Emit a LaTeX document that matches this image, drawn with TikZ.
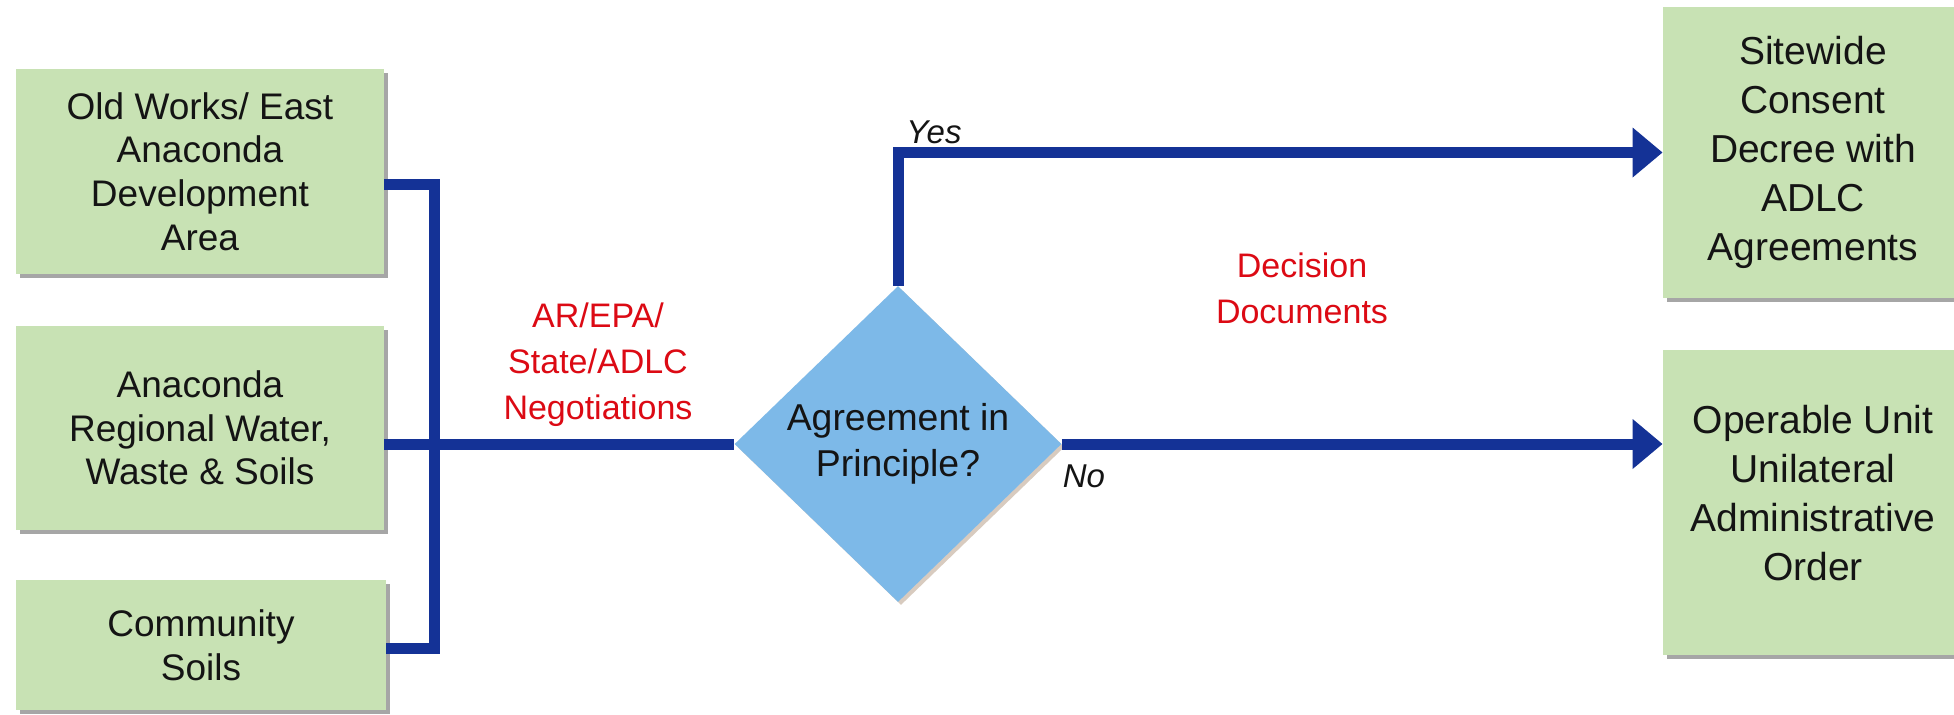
\documentclass[tikz,border=0pt]{standalone}
\usepackage{fontspec}
\setmainfont{Liberation Sans}
\usetikzlibrary{shapes.geometric,arrows.meta,shadows,calc}
\definecolor{boxgreen}{RGB}{200,226,180}
\definecolor{linkblue}{RGB}{20,50,150}
\definecolor{diablue}{RGB}{125,185,232}
\definecolor{notered}{RGB}{220,10,20}
\definecolor{txt}{RGB}{20,20,20}
\tikzset{
  greenbox/.style={rectangle, fill=boxgreen, draw=none, align=center, text=txt, inner sep=0pt,
    drop shadow={shadow xshift=2pt, shadow yshift=-2pt, fill=black, opacity=0.35}},
  leftbox/.style={greenbox, minimum width=184pt, font=\fontsize{18.5}{21.8}\selectfont},
  rightbox/.style={greenbox, minimum width=150pt, font=\fontsize{19.5}{24.5}\selectfont},
  boxtext/.style={align=center, text=txt, inner sep=0pt, font=\fontsize{19.5}{24.5}\selectfont},
  decision/.style={diamond, fill=diablue, draw=none, inner sep=0pt, align=center, text=txt,
    minimum width=163.5pt, minimum height=158pt, font=\fontsize{18.7}{23}\selectfont,
    drop shadow={shadow xshift=1.5pt, shadow yshift=-1.5pt, fill=black!60!orange, opacity=0.25}},
  conn/.style={draw=linkblue, line width=5.5pt, line join=miter},
  arrowed/.style={conn, -{Triangle[length=15pt,width=24pt]}},
  redlabel/.style={text=notered, align=center, font=\fontsize{17}{23}\selectfont},
  branchlabel/.style={text=txt, font=\fontsize{16.5}{20}\selectfont\itshape, anchor=base}
}
\begin{document}
\begin{tikzpicture}[x=0.5pt,y=-0.5pt]
\useasboundingbox[fill=white] (0,0) rectangle (1954,714);

\node[leftbox, minimum height=102.5pt] (box1) at (200,171.5) {Old Works/ East\\Anaconda\\Development\\Area};
\node[leftbox, minimum height=102pt] (box2) at (200,428) {Anaconda\\Regional Water,\\Waste \& Soils};
\node[leftbox, minimum height=65pt, minimum width=185pt] (box3) at (201,645) {Community\\Soils};

\node[decision] (dia) at (898,444) {Agreement in\\Principle?};

\node[rightbox, minimum height=145.5pt] (boxA) at (1813,152.5) {Sitewide\\Consent\\Decree with\\ADLC\\Agreements};
\node[rightbox, minimum height=152.5pt] (boxB) at (1813,502.5) {};
\node[boxtext] (boxBtext) at ($(boxB.center)+(0,-9)$) {Operable Unit\\Unilateral\\Administrative\\Order};

\coordinate (bartop) at (434,184);
\coordinate (barbot) at (434,648);
\draw[conn] ($(box1.east)+(0,12.5)$) -- (bartop) -- (barbot) -- ($(box3.east)+(0,3)$);
\draw[conn] ($(box2.east)+(0,16)$) -- (dia.west);
\draw[arrowed] (dia.north) |- (boxA.west);
\draw[arrowed] (dia.east) -- (dia.east -| boxB.west);

\node[redlabel] (neg) at (598,365) {AR/EPA/\\State/ADLC\\Negotiations};
\node[redlabel] (dd) at (1302,288) {Decision\\Documents};
\node[branchlabel] (yes) at (934,143) {Yes};
\node[branchlabel] (no) at (1084,487) {No};
\end{tikzpicture}
\end{document}
